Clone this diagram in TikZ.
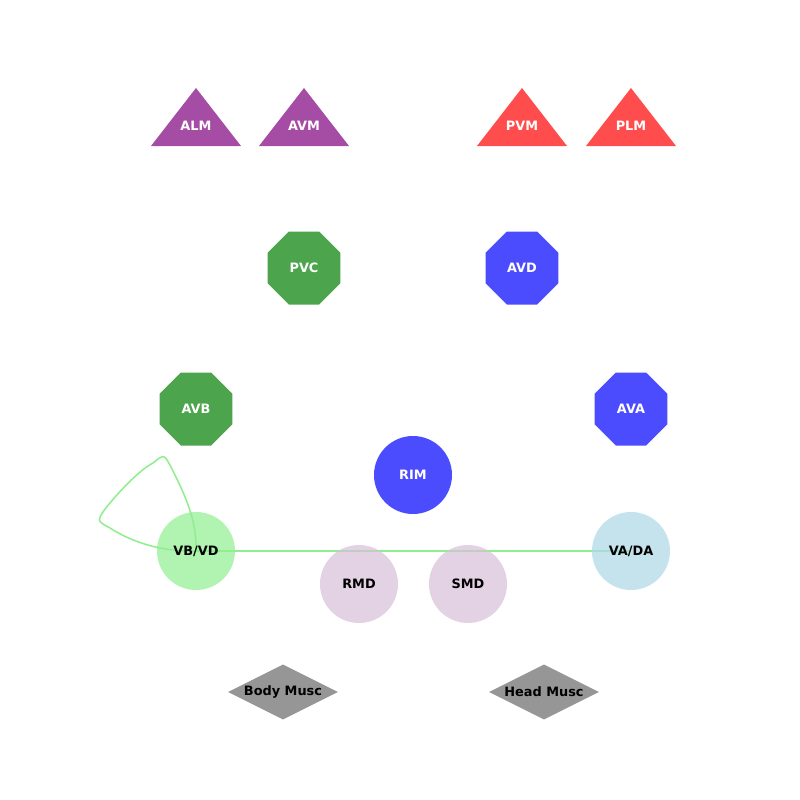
\documentclass[tikz,border=0pt]{standalone}
\usepackage{fontspec}
\setmainfont{DejaVu Sans}
\usetikzlibrary{shapes.geometric,backgrounds}
\definecolor{purp}{RGB}{128,0,128}
\definecolor{redd}{RGB}{255,0,0}
\definecolor{grn}{RGB}{0,128,0}
\definecolor{blu}{RGB}{0,0,255}
\definecolor{lgreen}{RGB}{144,238,144}
\definecolor{lblue}{RGB}{173,216,230}
\definecolor{thist}{RGB}{216,191,216}
\definecolor{musccol}{RGB}{150,150,150}
\tikzset{
  lbl/.style={font=\fontsize{11}{13}\selectfont\bfseries},
  oct/.style={lbl,regular polygon,regular polygon sides=8,minimum size=2.37cm,inner sep=0,fill opacity=0.7,text opacity=1,text=white},
  ring/.style={lbl,circle,minimum size=2.34cm,inner sep=0,fill opacity=0.7,text opacity=1},
  musc/.style={lbl,diamond,aspect=2,minimum width=3.3cm,minimum height=1.65cm,inner sep=0,fill=musccol},
  link/.style={lgreen,line width=1.3pt}
}
\begin{document}
\begin{tikzpicture}[x=0.03cm,y=-0.03cm]
\useasboundingbox (0,0) rectangle (800,800);

% sensory neurons
\foreach \n/\x/\c in {ALM/196/purp,AVM/304/purp,PVM/522/redd,PLM/631/redd} {
  \fill[\c,fill opacity=0.7] (\x,88) -- (\x+45,146) -- (\x-45,146) -- cycle;
  \node[lbl,text=white] (\n) at (\x,126) {\n};
}

% interneurons
\node[oct,fill=grn] (pvc) at (304,268) {PVC};
\node[oct,fill=blu] (avd) at (522,268) {AVD};
\node[oct,fill=grn] (avb) at (196,409) {AVB};
\node[oct,fill=blu] (ava) at (631,409) {AVA};
\node[ring,fill=blu,text=white] (rim) at (413,475) {RIM};

% motor neurons
\node[ring,fill=lgreen] (vbvd) at (196,551) {VB/VD};
\node[ring,fill=lblue] (vada) at (631,551) {VA/DA};
\node[ring,fill=thist] (rmd) at (359,584) {RMD};
\node[ring,fill=thist] (smd) at (468,584) {SMD};

% muscles
\node[musc] (body) at (283,692) {Body Musc};
\node[musc] (head) at (544,692) {Head Musc};

\begin{scope}[on background layer]
\fill[white] (0,0) rectangle (800,800);
\draw[link] (vbvd.center) -- (vada.center);
% self loop
\draw[link] (vbvd.center) .. controls (160,552) and (130,541) .. (110,528)
  .. controls (97,521) .. (105,509)
  .. controls (122,488) and (140,470) .. (153,463)
  .. controls (164,454) .. (171,467)
  .. controls (185,495) and (197,520) .. (vbvd.center);
\end{scope}

\end{tikzpicture}
\end{document}
